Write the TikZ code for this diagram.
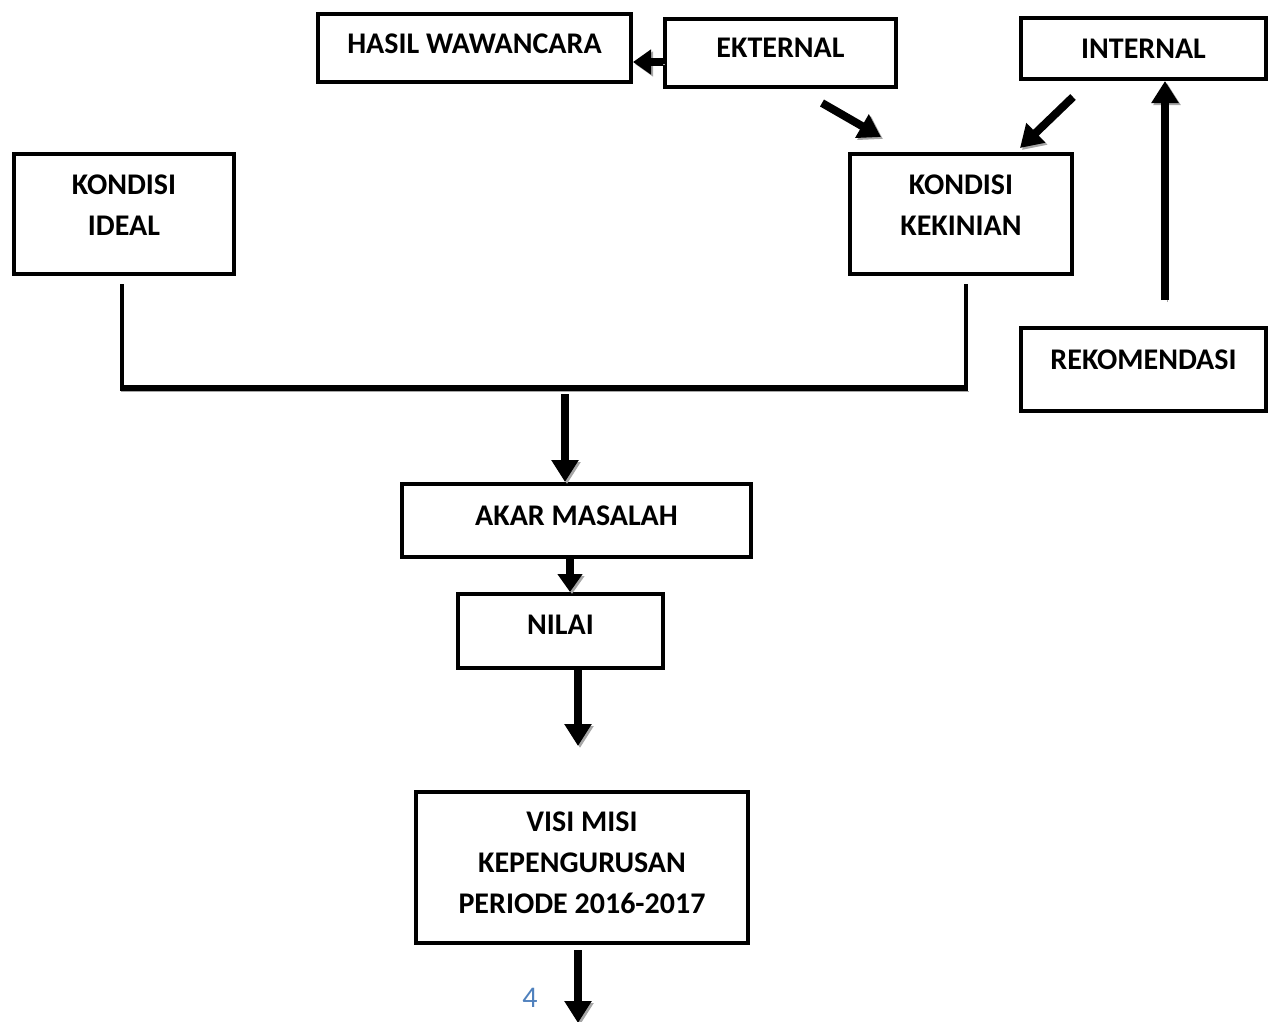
\documentclass[tikz,border=0pt]{standalone}
\usepackage{fontspec}
\setmainfont{Carlito}
\usetikzlibrary{arrows.meta,calc}
\definecolor{pgblue}{RGB}{79,129,189}
\newcommand{\dn}[1]{\rule[-#1pt]{0pt}{0pt}}
\begin{document}
\begin{tikzpicture}[x=1pt,y=-1pt,
  box/.style={draw,line width=4pt,align=center,inner sep=0pt,
    font=\bfseries\fontsize{30}{41}\selectfont},
  arr/.style={line width=8pt,-{Triangle[length=22pt,width=26pt]},
    preaction={draw=black!35,transform canvas={shift={(2pt,-2pt)}}}},
  sarr/.style={line width=8pt,-{Triangle[length=18pt,width=24pt]},
    preaction={draw=black!35,transform canvas={shift={(2pt,-2pt)}}}},
  vline/.style={line width=4pt},
  hline/.style={line width=6pt,preaction={draw=black!35,transform canvas={shift={(1pt,-3pt)}}}}]
\useasboundingbox (0,0) rectangle (1275,1021);

\node[box,minimum width=313,minimum height=68] (hasil) at (474.5,48) {HASIL WAWANCARA\dn{8}};
\node[box,minimum width=231,minimum height=68] (ekst) at (780.5,53) {EKTERNAL\dn{10}};
\node[box,minimum width=245,minimum height=61] (int) at (1143.5,48.5) {INTERNAL};
\node[box,minimum width=220,minimum height=120] (ideal) at (124,214) {KONDISI\\IDEAL\dn{17}};
\node[box,minimum width=222,minimum height=120] (kini) at (961,214) {KONDISI\\KEKINIAN\dn{17}};
\node[box,minimum width=245,minimum height=83] (rek) at (1143.5,369.5) {REKOMENDASI\dn{20}};
\node[box,minimum width=349,minimum height=73] (akar) at (576.5,520.5) {AKAR MASALAH\dn{10}};
\node[box,minimum width=205,minimum height=74] (nilai) at (560.5,631) {NILAI\dn{12}};
\node[box,minimum width=332,minimum height=151] (visi) at (582,867.5) {VISI MISI\\KEPENGURUSAN\\PERIODE 2016-2017\dn{9}};
\node[text=pgblue,font=\fontsize{30}{34}\selectfont] (pg) at (530,998) {4};

% top arrows
\draw[sarr] (ekst.west |- 0,62) -- (hasil.east |- 0,62);
\coordinate (e1) at (822,103);
\coordinate (e2) at (881,137);
\draw[arr] (e1) -- (e2);
\coordinate (i1) at (1073,97);
\coordinate (i2) at (1020,148);
\draw[arr] (i1) -- (i2);
\coordinate (r1) at (1165,300);
\draw[arr] (r1) -- (int.south -| r1);

% bracket
\coordinate (bl) at (122,388);
\coordinate (br) at (966,388);
\draw[vline] (ideal.south) ++(-2,8) -- (bl);
\draw[vline] (kini.south) ++(5,8) -- (br);
\draw[hline] ([xshift=-2pt]bl) -- ([xshift=2pt]br);

% main flow
\coordinate (m1) at (565,394);
\draw[arr] (m1) -- (akar.north -| m1);
\draw[sarr] (akar.south -| 570,0) -- (nilai.north -| 570,0);
\coordinate (n2) at (578,746);
\draw[arr] (nilai.south -| n2) -- (n2);
\coordinate (v2) at (578,1023);
\draw[arr] (visi.south -| v2) ++(0,5) -- (v2);
\end{tikzpicture}
\end{document}
